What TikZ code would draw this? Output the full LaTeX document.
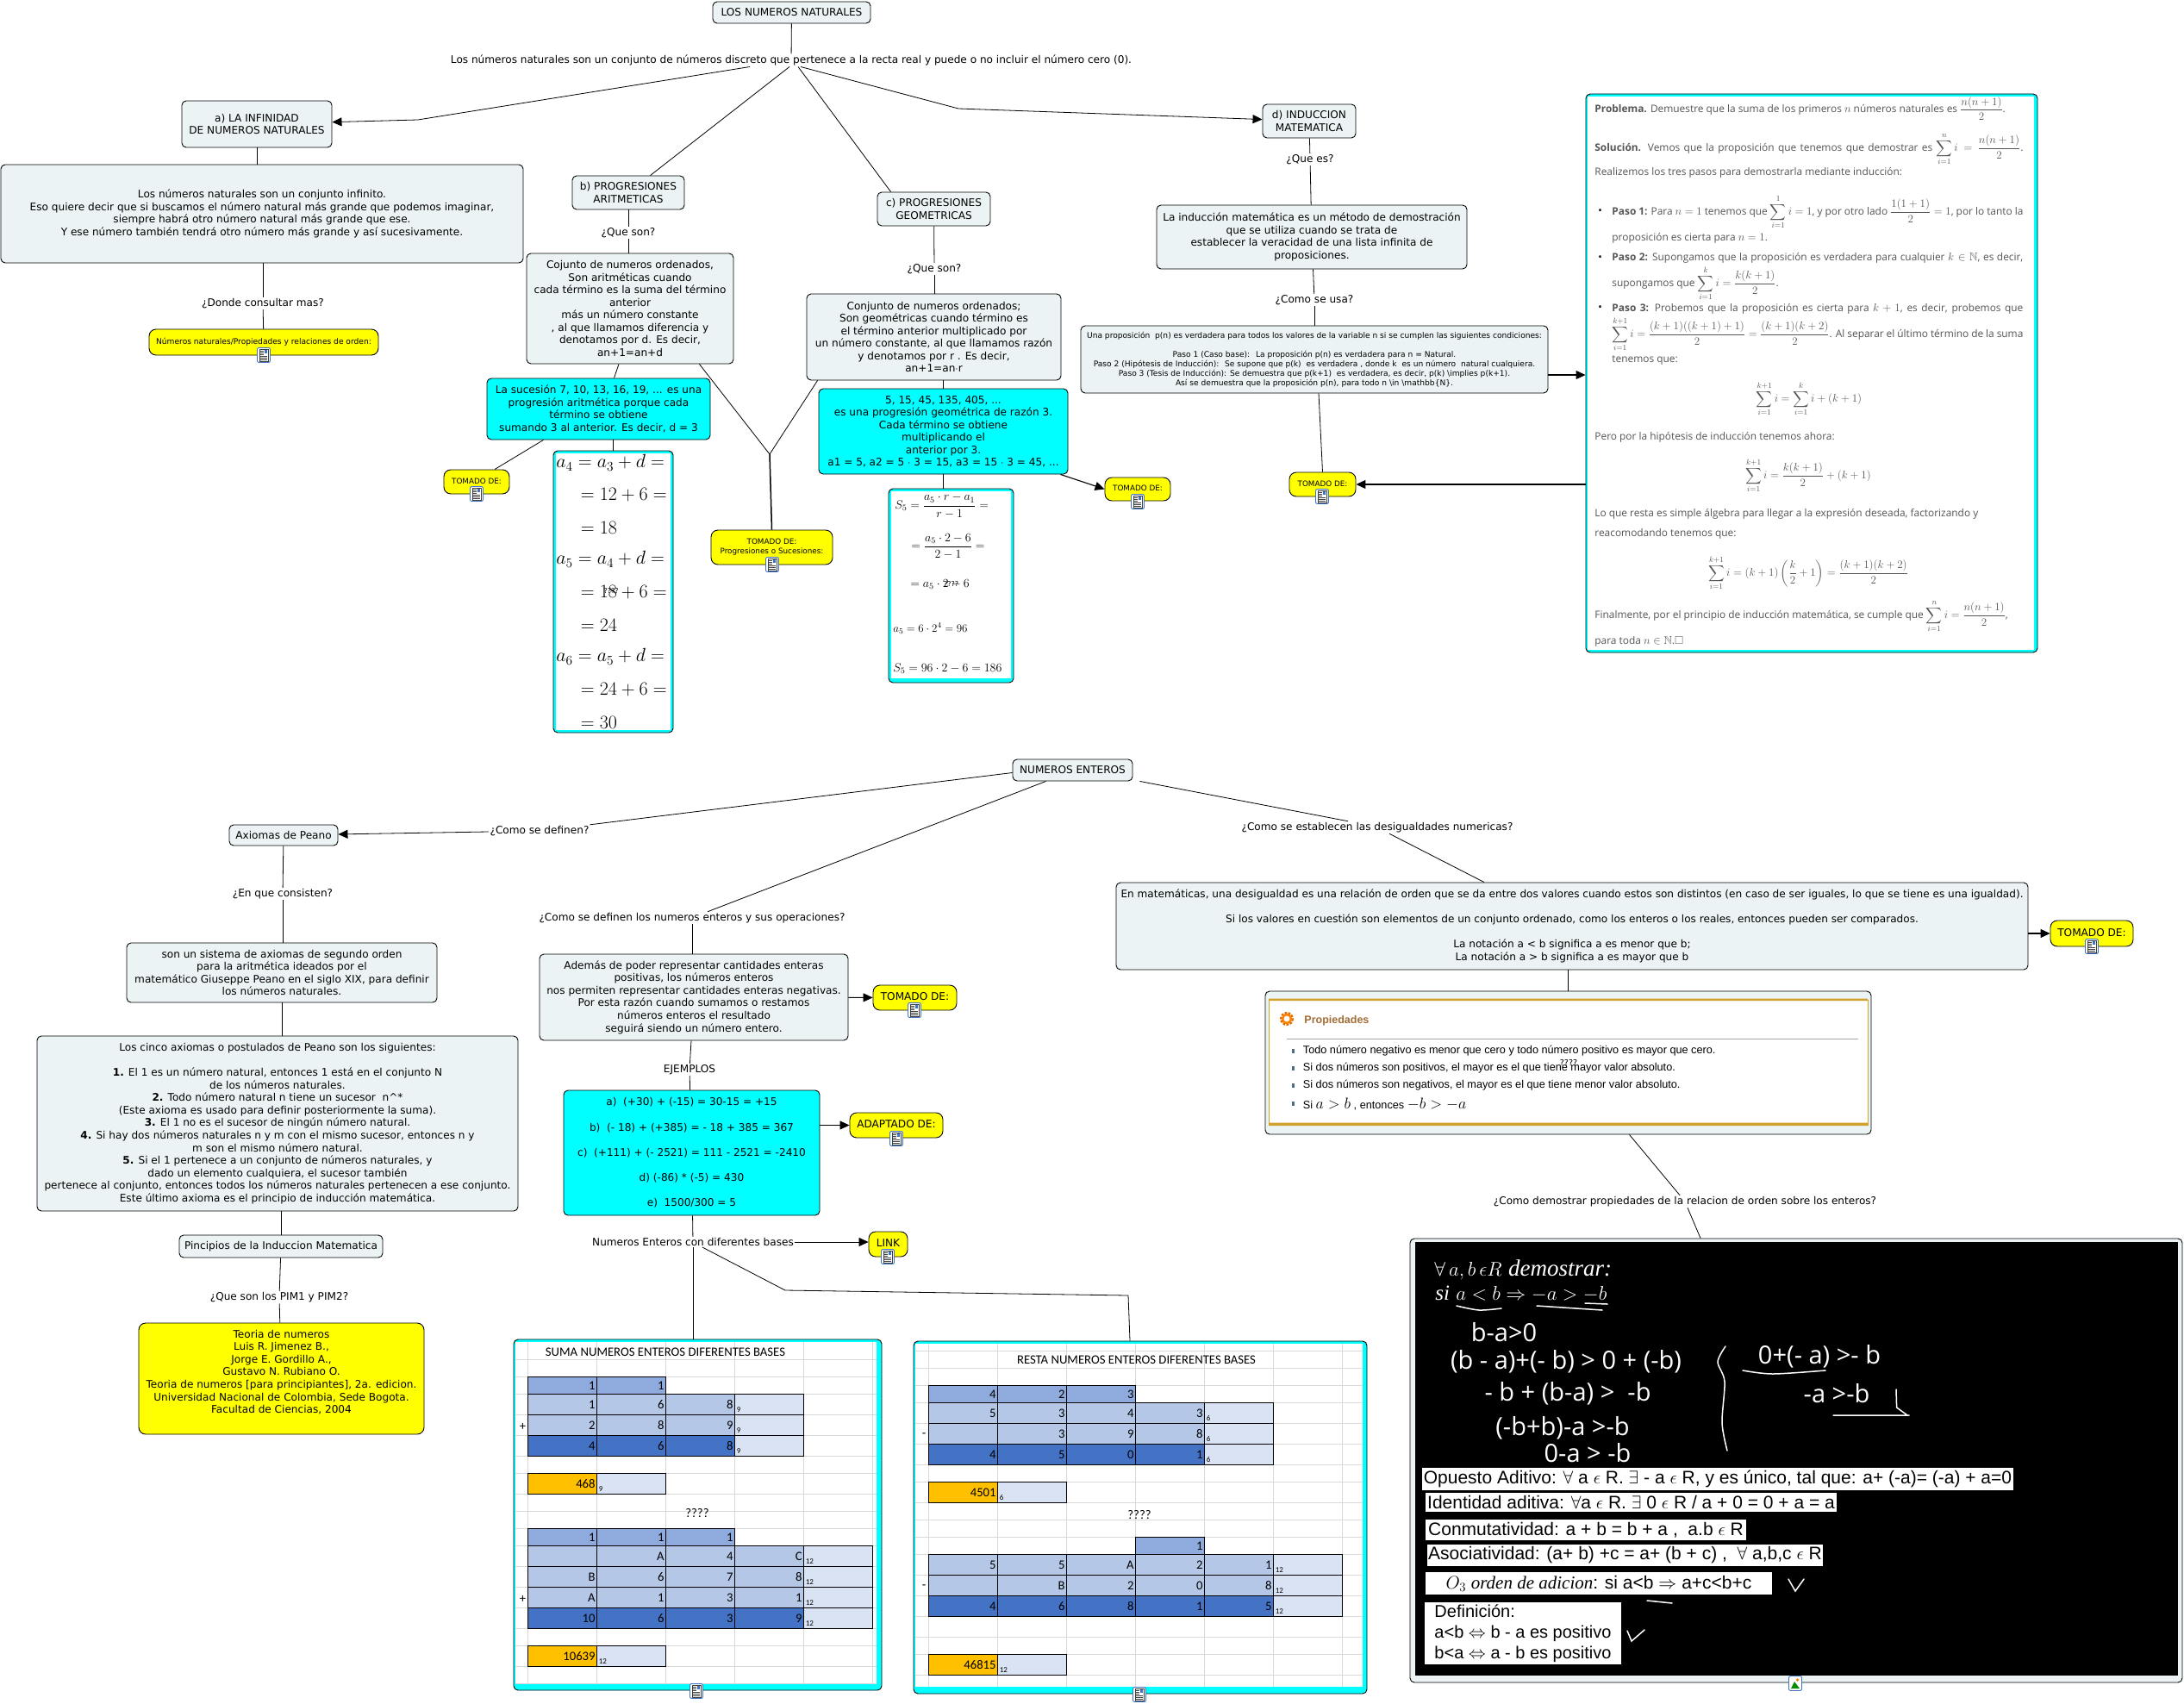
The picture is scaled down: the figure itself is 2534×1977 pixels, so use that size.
\RequirePackage{fix-cm}
\documentclass[tikz,border=0pt]{standalone}
\usepackage[no-math]{fontspec}
\usepackage{amsmath,amssymb}
\setmainfont{DejaVu Sans}
\newfontfamily\carlito{Carlito}
\newfontfamily\arial{Liberation Sans}
\newfontfamily\serifa{Liberation Serif}
\newfontfamily\opens{Open Sans}
\usetikzlibrary{arrows.meta}
\definecolor{fondoGris}{HTML}{ECF3F5}
\definecolor{amarilloNota}{HTML}{FFFF00}
\definecolor{cianEjemplo}{HTML}{00FFFF}
\definecolor{azulMedio}{HTML}{8FAADC}
\definecolor{azulBajo}{HTML}{B4C7E7}
\definecolor{azulFuerte}{HTML}{4472C4}
\definecolor{azulClaro}{HTML}{DAE3F3}
\definecolor{naranjaTotal}{HTML}{FFC000}
\definecolor{rejillaHoja}{HTML}{D9D9D9}
\definecolor{doradoMarco}{HTML}{D0A22C}
\definecolor{grisTexto}{HTML}{555555}
\definecolor{azulIcono}{HTML}{3F74C4}
\tikzset{
  concepto/.style={draw=black,line width=.9pt,rounded corners=5pt,fill=fondoGris,align=center,
    inner sep=0pt,font=\fontsize{12.1}{14.5}\selectfont},
  nota/.style={concepto,fill=amarilloNota,rounded corners=8pt},
  ejemplo/.style={concepto,fill=cianEjemplo},
  enlace/.style={inner sep=1pt,align=center,font=\fontsize{12.1}{14}\selectfont},
  marcoCian/.style={draw=black,line width=.9pt,rounded corners=5pt,fill=cianEjemplo,inner sep=0pt},
  parrafo/.style={anchor=west,inner sep=0pt,text=grisTexto,font=\opens\fontsize{11.9}{13}\selectfont},
  ecuacion/.style={anchor=west,inner sep=0pt,font=\fontsize{22}{26}\selectfont},
  ecuacionS/.style={anchor=west,inner sep=0pt,font=\fontsize{14}{17}\selectfont},
  rotulo/.style={inner sep=0pt,font=\carlito\fontsize{14.7}{16}\selectfont},
  numero/.style={anchor=east,inner sep=0pt,font=\carlito\fontsize{14.7}{16}\selectfont},
  base/.style={anchor=south west,inner sep=0pt,font=\carlito\fontsize{9}{10}\selectfont},
  blanca/.style={fill=white,inner sep=0pt,font=\arial\fontsize{21}{23.7}\selectfont},
  mano/.style={inner sep=0pt,text=white,font=\opens\fontsize{29}{32}\selectfont},
  trazo/.style={white,line width=1.5pt,line cap=round},
  vineta/.style={anchor=west,inner sep=0pt,font=\arial\fontsize{12.7}{14}\selectfont},
  iconoDoc/.pic={
    \draw[azulIcono,fill=white,rounded corners=2pt,line width=.9pt] (-7.5,-8.5) rectangle (7.5,8.5);
    \draw[black!75,fill=white,line width=.6pt] (-5,-7) rectangle (5,7);
    \fill[azulIcono] (.5,-6) rectangle (4,-2);
    \foreach \fila in {-5,-3,-1,1,3,5}
      \draw[black!75,line width=.7pt] (-4,\fila) -- (0,\fila);
    \draw[black!75,line width=.7pt] (0,1) -- (4,1) (0,3) -- (4,3) (0,5) -- (4,5);
  },
  iconoImg/.pic={
    \draw[azulIcono,fill=white,rounded corners=2pt,line width=.9pt] (-7.5,-8.5) rectangle (7.5,8.5);
    \fill[green!55!black] (-5,6) -- (-1,-2) -- (5,6) -- cycle;
    \fill[orange] (2.5,-4) circle (1.8);
  },
}
\newcommand{\subir}[1]{\raisebox{2.5pt}{#1}}
\newcommand{\mat}[1]{{\fontsize{13}{15}\selectfont$#1$}}
\newcommand{\filaTabla}[7]{%
  \foreach \v [count=\c from 0] in {#5} {
    \pgfmathsetmacro{\xc}{#2+80*\c}
    \draw[fill=#4,line width=.8pt] (\xc,#3) rectangle +(80,#6);
    \node[numero] (#1-\c) at (\xc+78.5,#3+.5*#6+1) {\v};
  }
  \if\relax\detokenize{#7}\relax\else
    \foreach \v [count=\c from 0] in {#5} {\xdef\ultimo{\c}}
    \pgfmathsetmacro{\xc}{#2+80*(\ultimo+1)}
    \draw[fill=azulClaro,line width=.8pt] (\xc,#3) rectangle +(80,#6);
    \node[base] (#1-base) at (\xc+2,#3+#6-2) {#7};
  \fi
}
\begin{document}
\begin{tikzpicture}[x=1pt,y=-1pt,line width=.8pt,>={Stealth[inset=0pt,length=11pt,width=10pt]}]
  \useasboundingbox (0,0) rectangle (2534,1977);
  % numeros naturales
  \node[concepto] (titulo) at (918.5,14.5) [minimum width=183,minimum height=25] {LOS NUMEROS NATURALES};
  \node[enlace] (lema) at (918,70) {Los números naturales son un conjunto de números discreto que pertenece a la recta real y puede o no incluir el número cero (0).};
  \node[concepto,minimum width=174,minimum height=54] (infinidad) at (298,144) {a) LA INFINIDAD\\DE NUMEROS NATURALES};
  \node[concepto,minimum width=606,minimum height=114] (infinito) at (304,248) {Los números naturales son un conjunto infinito.\\Eso quiere decir que si buscamos el número natural más grande que podemos imaginar,\\siempre habrá otro número natural más grande que ese.\\Y ese número también tendrá otro número más grande y así sucesivamente.};
  \node[enlace] (donde) at (305,352) {¿Donde consultar mas?};
  \node[nota,minimum width=266,minimum height=30,font=\fontsize{9.1}{11}\selectfont] (consulta) at (306,397) {\subir{Números naturales/Propiedades y relaciones de orden:}};
  \node[concepto,minimum width=130,minimum height=39] (aritmeticas) at (729,223.5) {b) PROGRESIONES\\ARITMETICAS};
  \node[enlace] (queB) at (729,270) {¿Que son?};
  \node[concepto,minimum width=240,minimum height=128] (cojunto) at (731,358) {Cojunto de numeros ordenados,\\Son aritméticas cuando\\cada término es la suma del término\\anterior\\más un número constante\\, al que llamamos diferencia y\\denotamos por d. Es decir,\\an+1=an+d};
  \node[ejemplo,minimum width=259,minimum height=71] (sucesion) at (694.5,474.5) {La sucesión 7, 10, 13, 16, 19, ... es una\\progresión aritmética porque cada\\término se obtiene\\sumando 3 al anterior. Es decir, d = 3};
  \node[nota,minimum width=76,minimum height=28,font=\fontsize{8.8}{11}\selectfont] (tomadoB) at (553,559) {\subir{TOMADO DE:}};
  \node[marcoCian,minimum width=139,minimum height=327] (listaA) at (711.5,686.5) {};
  \fill[white] (645,526) rectangle (778,847);
  \foreach \y/\xpos/\txt in {537/645/{a_4=a_3+d=},574/673.5/{=12+6=},612/673.5/{=18},649/645/{a_5=a_4+d=},
      687/673.5/{=18+6=},725/673.5/{=24},762/645/{a_6=a_5+d=},800/673.5/{=24+6=},838/673.5/{=30}}
    \node[ecuacion] (filaA\y) at (\xpos,\y) {$\txt$};
  \node[enlace,font=\fontsize{8}{10}\selectfont] (dudaA) at (709,686) {????};
  \node[nota,minimum width=141,minimum height=40,font=\fontsize{8.8}{11}\selectfont] (tomadoCentro) at (895.5,635) {\subir{TOMADO DE:}\\\subir{Progresiones o Sucesiones:}};
  \node[concepto,minimum width=131,minimum height=39] (geometricas) at (1083.5,242.5) {c) PROGRESIONES\\GEOMETRICAS};
  \node[enlace] (queC) at (1084,312) {¿Que son?};
  \node[concepto,minimum width=295,minimum height=100] (conjunto) at (1083.5,391) {Conjunto de numeros ordenados;\\Son geométricas cuando término es\\el término anterior multiplicado por\\un número constante, al que llamamos razón\\y denotamos por r . Es decir,\\an+1=an$\cdot$r};
  \node[ejemplo,minimum width=289,minimum height=99] (razon) at (1094.5,500.5) {5, 15, 45, 135, 405, ...\\es una progresión geométrica de razón 3.\\Cada término se obtiene\\multiplicando el\\anterior por 3.\\a1 = 5, a2 = 5 $\cdot$ 3 = 15, a3 = 15 $\cdot$ 3 = 45, ...};
  \node[marcoCian,minimum width=145,minimum height=225] (listaS) at (1103.5,679.5) {};
  \fill[white] (1034,570) rectangle (1172.5,787);
  \node[ecuacionS] (filaS1) at (1038,587) {$S_5=\dfrac{a_5\cdot r-a_1}{r-1}=$};
  \node[ecuacionS] (filaS2) at (1057,634) {$=\dfrac{a_5\cdot 2-6}{2-1}=$};
  \node[ecuacionS] (filaS3) at (1056,678) {$=a_5\cdot 2-6$};
  \node[ecuacionS,font=\fontsize{13}{15}\selectfont] (filaS4) at (1036,729) {$a_5=6\cdot 2^4=96$};
  \node[ecuacionS] (filaS5) at (1036,776) {$S_5=96\cdot 2-6=186$};
  \node[enlace,font=\fontsize{8}{10}\selectfont] (dudaS) at (1103.5,678) {????};
  \node[nota,minimum width=76,minimum height=27,font=\fontsize{8.8}{11}\selectfont] (tomadoC) at (1320,567.5) {\subir{TOMADO DE:}};
  \node[concepto,minimum width=108,minimum height=39] (induccion) at (1519,140.5) {d) INDUCCION\\MATEMATICA};
  \node[enlace] (queD) at (1520,185) {¿Que es?};
  \node[concepto,minimum width=360,minimum height=74] (metodo) at (1522,275) {La inducción matemática es un método de demostración\\que se utiliza cuando se trata de\\establecer la veracidad de una lista infinita de\\proposiciones.};
  \node[enlace] (comoD) at (1525,348) {¿Como se usa?};
  \node[concepto,minimum width=542,minimum height=78,font=\fontsize{9.1}{11}\selectfont] (pasos) at (1525,417) {Una proposición~ p(n) es verdadera para todos los valores de la variable n si se cumplen las siguientes condiciones:\\[11pt]Paso 1 (Caso base):~ La proposición p(n) es verdadera para n = Natural.\\Paso 2 (Hipótesis de Inducción):~ Se supone que p(k)~ es verdadera , donde k~ es un número~ natural cualquiera.\\Paso 3 (Tesis de Inducción): Se demuestra que p(k+1)~ es verdadera, es decir, p(k) \textbackslash implies p(k+1).\\Así se demuestra que la proposición p(n), para todo n \textbackslash in \textbackslash mathbb\{N\}.};
  \node[nota,minimum width=77,minimum height=28,font=\fontsize{8.8}{11}\selectfont] (tomadoD) at (1534.5,562) {\subir{TOMADO DE:}};
  % demostracion por induccion
  \node[marcoCian,minimum width=524,minimum height=648] (problema) at (2102,433) {};
  \fill[white] (1842,112) rectangle (2360,753.5);
  \node[parrafo] (p1) at (1850,126) {\textbf{Problema.} Demuestre que la suma de los primeros \mat{n} números naturales es \mat{\dfrac{n(n+1)}{2}}.};
  \node[parrafo] (p2) at (1850,173) {\hbox to 497pt{\textbf{Solución.} Vemos que la proposición que tenemos que demostrar es \mat{\displaystyle\sum_{i=1}^{n}i=\frac{n(n+1)}{2}}.}};
  \node[parrafo] (p3) at (1850,200.6) {Realizemos los tres pasos para demostrarla mediante inducción:};
  \node[parrafo,text=black] (b1) at (1854,246) {\textbullet};
  \node[parrafo] (p4) at (1870,246) {\hbox to 477pt{\textbf{Paso 1:} Para \mat{n=1} tenemos que \mat{\displaystyle\sum_{i=1}^{1}i=1}, y por otro lado \mat{\dfrac{1(1+1)}{2}=1}, por lo tanto la}};
  \node[parrafo] (p5) at (1870,276) {proposición es cierta para \mat{n=1}.};
  \node[parrafo,text=black] (b2) at (1854,299.5) {\textbullet};
  \node[parrafo] (p6) at (1870,299.5) {\hbox to 477pt{\textbf{Paso 2:} Supongamos que la proposición es verdadera para cualquier \mat{k\in\mathbb{N}}, es decir,}};
  \node[parrafo] (p7) at (1870,329) {supongamos que \mat{\displaystyle\sum_{i=1}^{k}i=\frac{k(k+1)}{2}}.};
  \node[parrafo,text=black] (b3) at (1854,358) {\textbullet};
  \node[parrafo] (p8) at (1870,358) {\hbox to 477pt{\textbf{Paso 3:} Probemos que la proposición es cierta para \mat{k+1}, es decir, probemos que}};
  \node[parrafo] (p9) at (1870,388) {\hbox to 477pt{\mat{\displaystyle\sum_{i=1}^{k+1}i=\frac{(k+1)((k+1)+1)}{2}=\frac{(k+1)(k+2)}{2}}. Al separar el último término de la suma}};
  \node[parrafo] (p10) at (1870,418) {tenemos que:};
  \node[parrafo,anchor=center] (p11) at (2099,463) {\mat{\displaystyle\sum_{i=1}^{k+1}i=\sum_{i=1}^{k}i+(k+1)}};
  \node[parrafo] (p12) at (1850,507) {Pero por la hipótesis de inducción tenemos ahora:};
  \node[parrafo,anchor=center] (p13) at (2098,552) {\mat{\displaystyle\sum_{i=1}^{k+1}i=\frac{k(k+1)}{2}+(k+1)}};
  \node[parrafo] (p14) at (1850,596.5) {Lo que resta es simple álgebra para llegar a la expresión deseada, factorizando y};
  \node[parrafo] (p15) at (1850,619.5) {reacomodando tenemos que:};
  \node[parrafo,anchor=center] (p16) at (2098,665) {\mat{\displaystyle\sum_{i=1}^{k+1}i=(k+1)\left(\frac{k}{2}+1\right)=\frac{(k+1)(k+2)}{2}}};
  \node[parrafo] (p17) at (1850,715) {Finalmente, por el principio de inducción matemática, se cumple que \mat{\displaystyle\sum_{i=1}^{n}i=\frac{n(n+1)}{2}},};
  \node[parrafo] (p18) at (1850,744) {para toda \mat{n\in\mathbb{N}}.\mat{\square}};
  % conectores de arriba
  \coordinate (codoA) at (485,139);
  \coordinate (codoD) at (1112,126);
  \coordinate (unionCentro) at (893,527);
  \draw (titulo) -- (lema);
  \draw[->] ([xshift=-48pt]lema.south) -- (codoA) -- (infinidad);
  \draw ([xshift=-2pt]lema.south) -- (aritmeticas);
  \draw ([xshift=8pt]lema.south) -- ([xshift=16pt]geometricas.north west);
  \draw[->] ([xshift=11pt]lema.south) -- (codoD) -- (induccion);
  \draw (infinidad) -- (infinidad |- infinito.north);
  \draw (infinito.south -| donde) -- (donde);
  \draw (donde) -- (consulta);
  \draw (aritmeticas) -- (queB);
  \draw (queB) -- (queB |- cojunto.north);
  \draw ([xshift=-13pt]cojunto.south) -- ([xshift=18pt]sucesion.north);
  \draw (sucesion.south -| listaA) -- (listaA);
  \draw ([xshift=-64pt]sucesion.south) -- ([xshift=21pt]tomadoB.north);
  \draw ([xshift=-40pt]cojunto.south east) -- (unionCentro);
  \draw ([xshift=13pt]conjunto.south west) -- (unionCentro);
  \draw[line width=1.5pt] (unionCentro) -- (tomadoCentro.north);
  \draw (geometricas) -- (queC);
  \draw (queC) -- (queC |- conjunto.north);
  \draw (conjunto.south -| razon) -- (razon);
  \draw (razon) -- (razon |- listaS.north);
  \draw[->,line width=1.1pt] ([xshift=-9pt]razon.south east) -- (tomadoC.west);
  \draw (induccion) -- (queD);
  \draw (queD) -- (metodo);
  \draw (metodo) -- (comoD);
  \draw (comoD) -- (comoD |- pasos.north);
  \draw ([xshift=5pt]pasos.south) -- (tomadoD.north);
  \draw[->,line width=1.1pt] (pasos.east |- 0,435) -- (problema.west |- 0,435);
  \draw[->,line width=1.1pt] (problema.west |- tomadoD) -- (tomadoD);
  % numeros enteros
  \node[concepto,minimum width=139,minimum height=25] (enteros) at (1244.5,893.5) {NUMEROS ENTEROS};
  \node[enlace] (definen) at (626,964) {¿Como se definen?};
  \node[concepto,minimum width=126,minimum height=24] (peano) at (329,969) {Axiomas de Peano};
  \node[enlace] (consisten) at (328,1037) {¿En que consisten?};
  \node[concepto,minimum width=360,minimum height=69] (sistema) at (327,1128.5) {son un sistema de axiomas de segundo orden\\para la aritmética ideados por el\\matemático Giuseppe Peano en el siglo XIX, para definir\\los números naturales.};
  \node[concepto,minimum width=558,minimum height=203,font=\fontsize{12.1}{14.6}\selectfont] (cinco) at (322,1303.5) {Los cinco axiomas o postulados de Peano son los siguientes:\\[14.6pt]\textbf{1.} El 1 es un número natural, entonces 1 está en el conjunto N\\de los números naturales.\\\textbf{2.} Todo número natural n tiene un sucesor~ n\textasciicircum*\\(Este axioma es usado para definir posteriormente la suma).\\\textbf{3.} El 1 no es el sucesor de ningún número natural.\\\textbf{4.} Si hay dos números naturales n y m con el mismo sucesor, entonces n y\\m son el mismo número natural.\\\textbf{5.} Si el 1 pertenece a un conjunto de números naturales, y\\dado un elemento cualquiera, el sucesor también\\pertenece al conjunto, entonces todos los números naturales pertenecen a ese conjunto.\\Este último axioma es el principio de inducción matemática.};
  \node[concepto,minimum width=236,minimum height=26] (pincipios) at (326,1446) {Pincipios de la Induccion Matematica};
  \node[enlace] (pim) at (324,1505) {¿Que son los PIM1 y PIM2?};
  \node[nota,minimum width=331,minimum height=129,font=\fontsize{12.1}{14.6}\selectfont] (teoria) at (326.5,1599.5) {Teoria de numeros\\Luis R. Jimenez B.,\\Jorge E. Gordillo A.,\\Gustavo N. Rubiano O.\\Teoria de numeros [para principiantes], 2a. edicion.\\Universidad Nacional de Colombia, Sede Bogota.\\Facultad de Ciencias, 2004\\[2pt]};
  \node[enlace] (operaciones) at (803,1065) {¿Como se definen los numeros enteros y sus operaciones?};
  \node[concepto,minimum width=358,minimum height=100,font=\fontsize{12.1}{14.6}\selectfont] (ademas) at (805,1157) {Además de poder representar cantidades enteras\\positivas, los números enteros\\nos permiten representar cantidades enteras negativas.\\Por esta razón cuando sumamos o restamos\\números enteros el resultado\\seguirá siendo un número entero.};
  \node[nota,minimum width=97,minimum height=29] (tomadoE) at (1061.5,1157.5) {\subir{TOMADO DE:}};
  \node[enlace] (ejemplos) at (800,1241) {EJEMPLOS};
  \node[ejemplo,minimum width=297,minimum height=145,font=\fontsize{12.1}{14.6}\selectfont] (casos) at (802.5,1337.5) {a)~ (+30) + (-15) = 30-15 = +15\\[14.6pt]b)~ (- 18) + (+385) = - 18 + 385 = 367\\[14.6pt]c)~ (+111) + (- 2521) = 111 - 2521 = -2410\\[14.6pt]d) (-86) * (-5) = 430\\[14.6pt]e)~ 1500/300 = 5};
  \node[nota,minimum width=108,minimum height=29] (adaptado) at (1040,1305.5) {\subir{ADAPTADO DE:}};
  \node[enlace] (bases) at (804,1441) {Numeros Enteros con diferentes bases};
  \node[nota,minimum width=45,minimum height=29] (link) at (1030.5,1443.5) {\subir{LINK}};
  \node[enlace] (desigualdades) at (1598,960) {¿Como se establecen las desigualdades numericas?};
  \node[concepto,minimum width=1058,minimum height=101] (desigualdad) at (1824,1074.5) {En matemáticas, una desigualdad es una relación de orden que se da entre dos valores cuando estos son distintos (en caso de ser iguales, lo que se tiene es una igualdad).\\[14.5pt]Si los valores en cuestión son elementos de un conjunto ordenado, como los enteros o los reales, entonces pueden ser comparados.\\[14.5pt]La notación a < b significa a es menor que b;\\La notación a > b significa a es mayor que b};
  \node[nota,minimum width=96,minimum height=30] (tomadoI) at (2427,1083) {\subir{TOMADO DE:}};
  % recuadro de propiedades
  \node[concepto,minimum width=703,minimum height=166] (propiedades) at (1819.5,1233) {};
  \draw[doradoMarco,fill=white,line width=.8pt] (1472,1160) rectangle (2167,1305);
  \fill[doradoMarco] (1472,1158.5) rectangle (2167,1161) (1472,1302.5) rectangle (2167,1306);
  \draw[orange!85!black,line width=3pt,dash pattern=on 2.5pt off 1.5pt] (1493,1182) circle (6.5);
  \draw[orange,line width=2.5pt] (1493,1182) circle (5);
  \node[anchor=west,inner sep=0pt,text=brown!85!black,font=\arial\bfseries\fontsize{12.5}{14}\selectfont] (propTitulo) at (1513,1184) {Propiedades};
  \draw[black!35,line width=1pt] (1493,1205) -- (2156,1205);
  \foreach \y in {1219,1239,1259,1280}
    \fill[black!55!cyan] (1498.5,\y-2) rectangle +(3.5,4.5);
  \node[vineta] (prop1) at (1511.5,1219) {Todo número negativo es menor que cero y todo número positivo es mayor que cero.};
  \node[vineta] (prop2) at (1511.5,1239) {Si dos números son positivos, el mayor es el que tiene mayor valor absoluto.};
  \node[vineta] (prop3) at (1511.5,1259) {Si dos números son negativos, el mayor es el que tiene menor valor absoluto.};
  \node[vineta] (prop4) at (1511.5,1281) {Si {\fontsize{18}{20}\selectfont$a>b$} , entonces {\fontsize{18}{20}\selectfont$-b>-a$}};
  \node[enlace,font=\fontsize{9.5}{11}\selectfont] (dudaP) at (1820,1233) {????};
  \node[enlace] (demostrar) at (1955,1394) {¿Como demostrar propiedades de la relacion de orden sobre los enteros?};
  % hojas de calculo
  \node[marcoCian,minimum width=427,minimum height=407] (marcoSuma) at (809.5,1757.5) {};
  \fill[white] (598,1557) rectangle (1017,1953);
  \node[marcoCian,minimum width=526,minimum height=409] (marcoResta) at (1323,1760.5) {};
  \fill[white] (1062,1559) rectangle (1581,1957);
  \foreach \y in {1577,1597,1617,1641,1665,1689,1709,1733,1753,1773,1793,1817,1841,1865,1889,1909,1933,1953}
    \draw[rejillaHoja,line width=.7pt] (598,\y) -- (1017,\y);
  \foreach \x in {612.5,692.5,772.5,852.5,932.5,1012.5}
    \draw[rejillaHoja,line width=.7pt] (\x,1557) -- (\x,1953);
  \foreach \y in {1567,1587,1607,1627,1651,1675,1699,1719,1743,1763,1783,1803,1827,1851,1875,1899,1919,1943}
    \draw[rejillaHoja,line width=.7pt] (1062,\y) -- (1581,\y);
  \foreach \x in {1077.5,1157.5,1237.5,1317.5,1397.5,1477.5,1557.5}
    \draw[rejillaHoja,line width=.7pt] (\x,1559) -- (\x,1957);
  \node[rotulo] (sumaTitulo) at (772,1569) {SUMA NUMEROS ENTEROS DIFERENTES BASES};
  \filaTabla{sumaA}{612.5}{1597}{azulMedio}{1,1}{20}{}
  \filaTabla{sumaB}{612.5}{1617}{azulBajo}{1,6,8}{24}{9}
  \filaTabla{sumaC}{612.5}{1641}{azulBajo}{2,8,9}{24}{9}
  \filaTabla{sumaD}{612.5}{1665}{azulFuerte}{4,6,8}{24}{9}
  \filaTabla{sumaE}{612.5}{1709}{naranjaTotal}{468}{24}{9}
  \node[rotulo] (sumaDuda) at (809,1756) {????};
  \filaTabla{sumaF}{612.5}{1773}{azulMedio}{1,1,1}{20}{}
  \filaTabla{sumaG}{612.5}{1793}{azulBajo}{~,A,4,C}{24}{12}
  \filaTabla{sumaH}{612.5}{1817}{azulBajo}{B,6,7,8}{24}{12}
  \filaTabla{sumaI}{612.5}{1841}{azulBajo}{A,1,3,1}{24}{12}
  \filaTabla{sumaJ}{612.5}{1865}{azulFuerte}{10,6,3,9}{24}{12}
  \filaTabla{sumaK}{612.5}{1909}{naranjaTotal}{10639}{24}{12}
  \node[rotulo] (sumaMas1) at (606.5,1655) {+};
  \node[rotulo] (sumaMas2) at (606.5,1855) {+};
  \node[rotulo] (restaTitulo) at (1318.5,1578) {RESTA NUMEROS ENTEROS DIFERENTES BASES};
  \filaTabla{restaA}{1077.5}{1607}{azulMedio}{4,2,3}{20}{}
  \filaTabla{restaB}{1077.5}{1627}{azulBajo}{5,3,4,3}{24}{6}
  \filaTabla{restaC}{1077.5}{1651}{azulBajo}{~,3,9,8}{24}{6}
  \filaTabla{restaD}{1077.5}{1675}{azulFuerte}{4,5,0,1}{24}{6}
  \filaTabla{restaE}{1077.5}{1719}{naranjaTotal}{4501}{24}{6}
  \node[rotulo] (restaDuda) at (1322,1758) {????};
  \filaTabla{restaF}{1317.5}{1783}{azulMedio}{1}{20}{}
  \filaTabla{restaG}{1077.5}{1803}{azulBajo}{5,5,A,2,1}{24}{12}
  \filaTabla{restaH}{1077.5}{1827}{azulBajo}{~,B\hspace{70pt},2,0,8}{24}{12}
  \filaTabla{restaI}{1077.5}{1851}{azulFuerte}{4,6,8,1,5}{24}{12}
  \filaTabla{restaJ}{1077.5}{1919}{naranjaTotal}{46815}{24}{12}
  \node[rotulo] (restaMenos1) at (1072,1665) {-};
  \node[rotulo] (restaMenos2) at (1072,1841) {-};
  % pizarra negra
  \node[marcoCian,fill=fondoGris,minimum width=896,minimum height=515] (pizarra) at (2084,1694.5) {};
  \fill[black] (1642,1441) rectangle (2527,1944);
  \node[inner sep=0pt,anchor=west,text=white,font=\fontsize{23}{26}\selectfont] (pizarra1) at (1664,1473) {$\forall\,a,b\,\epsilon R$ {\serifa\itshape\fontsize{27}{30}\selectfont demostrar:}};
  \node[inner sep=0pt,anchor=west,text=white,font=\fontsize{23}{26}\selectfont] (pizarra2) at (1665,1501) {{\serifa\itshape\fontsize{25}{30}\selectfont si} $a<b\Rightarrow -a>-b$};
  \node[mano] (paso1) at (1745,1546) {b-a>0};
  \node[mano] (paso2) at (1817,1580) {(b - a)+(- b) > 0 + (-b)};
  \node[mano] (paso3) at (1819,1617) {- b + (b-a) > ~-b};
  \node[mano] (paso4) at (1813,1657) {(-b+b)-a >-b};
  \node[mano] (paso5) at (1842,1686) {0-a > -b};
  \node[mano] (paso6) at (2111,1574) {0+(- a) >- b};
  \node[mano] (paso7) at (2131,1617) {-a >-b};
  \draw[trazo] plot[smooth] coordinates {(2002,1562) (1993,1580) (2001,1603) (1998,1651) (2004,1683)};
  \draw[trazo] (2127,1642) -- (2215,1642) (2200,1612) -- (2200.6,1633) -- (2213,1642);
  \draw[trazo] plot[smooth] coordinates {(1690,1515) (1716,1520) (1742,1518)};
  \draw[trazo] (1783,1515) -- (1859,1520) (1839,1512) -- (1865,1513);
  \draw[trazo] plot[smooth] coordinates {(2022,1590) (2057,1594) (2118,1590)};
  \draw[trazo] (2075,1832) -- (2083,1846) -- (2093,1832);
  \draw[trazo] (1888,1892) -- (1893,1904) -- (1908,1891);
  \draw[trazo] (1911,1857) -- (1940,1860);
  \node[blanca,minimum width=686,minimum height=26] (opuesto) at (1993,1716) {Opuesto Aditivo: $\forall$ a $\epsilon$ R. $\exists$ - a $\epsilon$ R, y es único, tal que: a+ (-a)= (-a) + a=0};
  \node[blanca,minimum width=477,minimum height=22] (identidad) at (1892.5,1743) {Identidad aditiva: $\forall$a $\epsilon$ R. $\exists$ 0 $\epsilon$ R / a + 0 = 0 + a = a};
  \node[blanca,minimum width=372,minimum height=24] (conmuta) at (1840,1775) {Conmutatividad: a + b = b + a ,~ a.b $\epsilon$ R};
  \node[blanca,minimum width=459,minimum height=25] (asocia) at (1885.5,1804.5) {Asociatividad: (a+ b) +c = a+ (b + c) ,~ $\forall$ a,b,c $\epsilon$ R};
  \node[blanca,minimum width=402,minimum height=26] (orden) at (1855,1837) {$O_3$ {\serifa\itshape orden de adicion}: si a<b $\Rightarrow$ a+c<b+c};
  \node[blanca,minimum width=228,minimum height=72,align=left,font=\arial\fontsize{20}{23.7}\selectfont] (definicion) at (1767,1895) {Definición:\\a<b $\Leftrightarrow$ b - a es positivo\\b<a $\Leftrightarrow$ a - b es positivo};
  % conectores de abajo
  \coordinate (codoR1) at (911,1497);
  \coordinate (codoR2) at (1309,1503);
  \draw ([yshift=-3pt]enteros.west) -- (definen);
  \draw[->] (definen) -- (peano);
  \draw (peano) -- (consisten);
  \draw (consisten) -- (consisten |- sistema.north);
  \draw (sistema) -- (sistema |- cinco.north);
  \draw (pincipios |- cinco.south) -- (pincipios);
  \draw (pincipios) -- (pim);
  \draw (pim) -- (teoria);
  \draw ([xshift=-31pt]enteros.south) -- (operaciones.north -| 821,0);
  \draw (operaciones) -- (operaciones |- ademas.north);
  \draw[->] (ademas) -- (tomadoE);
  \draw (ademas) -- (ejemplos);
  \draw (ejemplos) -- (casos);
  \draw[->] (casos.east |- adaptado) -- (adaptado);
  \draw (casos) -- (bases);
  \draw[->] (bases) -- (bases -| link.west);
  \draw (bases) -- (bases |- marcoSuma.north);
  \draw ([xshift=11pt]bases.south) -- (codoR1) -- (codoR2) -- ([xshift=-12pt]marcoResta.north);
  \draw ([xshift=8pt]enteros.south east) -- ([xshift=-34pt]desigualdades.north);
  \draw ([xshift=14pt]desigualdades.south) -- ([xshift=-102pt]desigualdad.north);
  \draw[->,line width=1.1pt] (desigualdad.east |- tomadoI) -- (tomadoI);
  \draw (propiedades |- desigualdad.south) -- (propiedades);
  \draw ([xshift=71pt]propiedades.south) -- ([xshift=-6pt]demostrar.north);
  \draw ([xshift=3pt]demostrar.south) -- ([xshift=-111pt]pizarra.north);
  % iconos
  \foreach \x/\y in {306/412,553/573,896/655,1320/582,1534/576,1061/1172,1040/1321,1030/1458,2427/1098,808/1962,1322/1966}
    \pic at (\x,\y) {iconoDoc};
  \pic at (2083,1953) {iconoImg};
\end{tikzpicture}
\end{document}
